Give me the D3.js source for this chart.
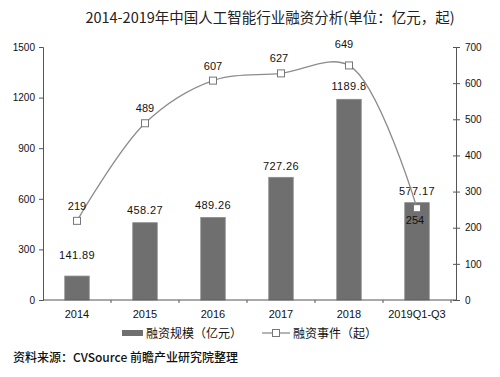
<!DOCTYPE html>
<html>
<head>
<meta charset="utf-8">
<script src="https://cdn.jsdelivr.net/npm/d3@7"></script>
<style>
  body { margin: 0; background: #fff; }
  svg { font-family: "Liberation Sans", Arial, "Noto Sans CJK SC", sans-serif; }
  .cjk { font-family: "Noto Sans CJK SC", sans-serif; }
</style>
</head>
<body>
<svg id="chart" width="500" height="377"></svg>
<script>
// data
const years = ['2014', '2015', '2016', '2017', '2018', '2019Q1-Q3'];
const amount = [141.89, 458.27, 489.26, 727.26, 1189.8, 577.17];     // 融资规模（亿元）
const amountLabels = ['141.89', '458.27', '489.26', '727.26', '1189.8', '577.17'];
const events = [219, 489, 607, 627, 649, 254];                         // 融资事件（起）
const leftTicks = [0, 300, 600, 900, 1200, 1500];
const rightTicks = [0, 100, 200, 300, 400, 500, 600, 700];

const svg = d3.select('#chart');

// plot area
const plotLeft = 43, plotRight = 451, axisR = 456, plotTop = 47, plotBottom = 300;

const x = d3.scaleBand().domain(years).range([plotLeft, plotRight]).paddingInner(0.64).paddingOuter(0.32);
const yL = d3.scaleLinear().domain([0, 1500]).range([plotBottom, plotTop]);
const yR = d3.scaleLinear().domain([0, 700]).range([plotBottom, plotTop]);

// title
svg.append('text')
    .attr('class', 'cjk')
    .attr('x', 270).attr('y', 23)
    .attr('text-anchor', 'middle')
    .attr('font-size', 14.5)
    .attr('fill', '#222')
    .text('2014-2019年中国人工智能行业融资分析(单位：亿元，起)');

// bars
svg.append('g').selectAll('rect')
    .data(amount)
  .join('rect')
    .attr('x', (d, i) => x(years[i]))
    .attr('y', d => yL(d))
    .attr('width', x.bandwidth())
    .attr('height', d => plotBottom - yL(d))
    .attr('fill', '#6f6f6f')
    .attr('stroke', '#8a8a8a')
    .attr('stroke-width', 0.8);

// bar value labels (first one sits a bit higher in the original)
const barLabelGap = [21, 13, 12, 11, 13, 12];
svg.append('g').selectAll('text')
    .data(amount)
  .join('text')
    .attr('x', (d, i) => x(years[i]) + x.bandwidth() / 2)
    .attr('y', (d, i) => yL(d) - barLabelGap[i] + 4)
    .attr('text-anchor', 'middle')
    .attr('font-size', 11)
    .attr('letter-spacing', 0.4)
    .attr('fill', '#111')
    .text((d, i) => amountLabels[i]);

// left axis
const axisL = svg.append('g')
    .attr('transform', `translate(${plotLeft},0)`)
    .call(d3.axisLeft(yL).tickValues(leftTicks).tickFormat(d3.format('d')).tickSize(4).tickPadding(4));
axisL.select('.domain').attr('stroke', '#555');
axisL.selectAll('.tick line').attr('stroke', '#555');
axisL.selectAll('.tick text').attr('font-size', 10).attr('fill', '#111');

// right axis
const axisRt = svg.append('g')
    .attr('transform', `translate(${axisR},0)`)
    .call(d3.axisRight(yR).tickValues(rightTicks).tickFormat(d3.format('d')).tickSize(4).tickPadding(5));
axisRt.select('.domain').attr('stroke', '#555');
axisRt.selectAll('.tick line').attr('stroke', '#555').attr('x1', -3);
axisRt.selectAll('.tick text').attr('font-size', 10).attr('fill', '#111');

// bottom axis: ticks at band boundaries
const xg = svg.append('g').attr('transform', `translate(0,${plotBottom})`);
xg.append('line')
    .attr('x1', plotLeft).attr('x2', axisR)
    .attr('stroke', '#555');
const step = x.step();
xg.selectAll('.bt')
    .data(years)
  .join('line')
    .attr('class', 'bt')
    .attr('x1', d => x(d) + x.bandwidth() / 2 + step / 2)
    .attr('x2', d => x(d) + x.bandwidth() / 2 + step / 2)
    .attr('y1', 0).attr('y2', 3)
    .attr('stroke', '#555');
xg.selectAll('.xl')
    .data(years)
  .join('text')
    .attr('class', 'xl')
    .attr('x', d => x(d) + x.bandwidth() / 2)
    .attr('y', 18)
    .attr('text-anchor', 'middle')
    .attr('font-size', 11)
    .attr('fill', '#111')
    .text(d => d);

// events line
const cx = (d, i) => x(years[i]) + x.bandwidth() / 2;
const line = d3.line()
    .x(cx)
    .y(d => yR(d))
    .curve(d3.curveCatmullRom.alpha(0.5));

svg.append('path')
    .datum(events)
    .attr('d', line)
    .attr('fill', 'none')
    .attr('stroke', '#8c8c8c')
    .attr('stroke-width', 1.3);

svg.append('g').selectAll('rect')
    .data(events)
  .join('rect')
    .attr('x', (d, i) => cx(d, i) - 3.5)
    .attr('y', d => yR(d) - 3.5)
    .attr('width', 7).attr('height', 7)
    .attr('fill', '#fff')
    .attr('stroke', '#777')
    .attr('stroke-width', 1);

// event labels: above points, last one below
const eventLabelDy = [-15, -15, -15, -15, -21, 12];
const eventLabelDx = [0, 0, 0, -2, -5, -2];
svg.append('g').selectAll('text')
    .data(events)
  .join('text')
    .attr('x', (d, i) => cx(d, i) + eventLabelDx[i])
    .attr('y', (d, i) => yR(d) + eventLabelDy[i] + 4)
    .attr('text-anchor', 'middle')
    .attr('font-size', 11)
    .attr('fill', '#111')
    .text(d => d);

// legend
const lg = svg.append('g').attr('transform', 'translate(0,333)');
lg.append('rect')
    .attr('x', 122).attr('y', -3)
    .attr('width', 21).attr('height', 6)
    .attr('fill', '#6f6f6f');
lg.append('text')
    .attr('class', 'cjk')
    .attr('x', 146).attr('y', 4.5)
    .attr('font-size', 12)
    .attr('fill', '#111')
    .text('融资规模（亿元）');
lg.append('line')
    .attr('x1', 262).attr('x2', 290)
    .attr('stroke', '#8c8c8c').attr('stroke-width', 1.3);
lg.append('rect')
    .attr('x', 272.5).attr('y', -3.5)
    .attr('width', 7).attr('height', 7)
    .attr('fill', '#fff').attr('stroke', '#777');
lg.append('text')
    .attr('class', 'cjk')
    .attr('x', 293).attr('y', 4.5)
    .attr('font-size', 12)
    .attr('fill', '#111')
    .text('融资事件（起）');

// source note
svg.append('text')
    .attr('class', 'cjk')
    .attr('x', 13).attr('y', 362)
    .attr('font-size', 12)
    .attr('font-weight', 500)
    .attr('fill', '#111')
    .text('资料来源：CVSource 前瞻产业研究院整理');
</script>
</body>
</html>
